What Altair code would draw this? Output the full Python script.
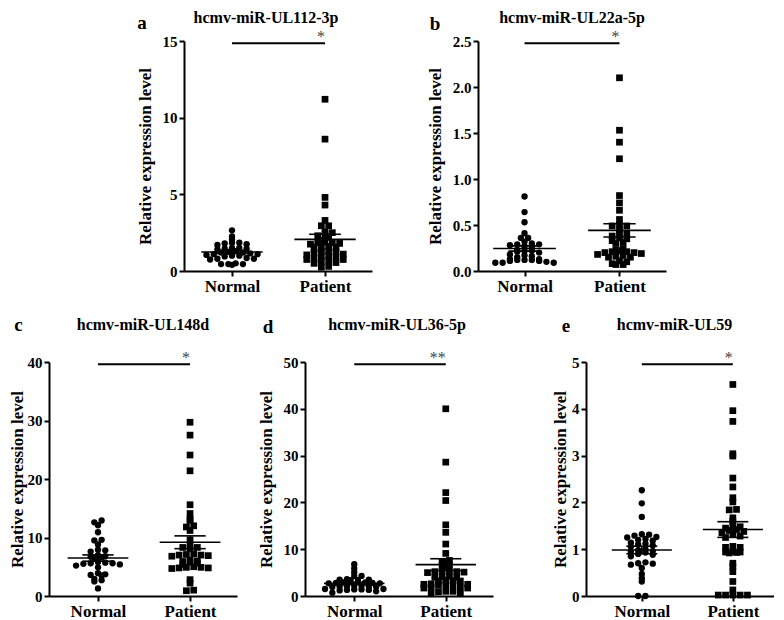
import math
import altair as alt
import pandas as pd

FONT = "Liberation Serif"
groups = ["Normal", "Patient"]

# ---------------- data ----------------
a_title = "hcmv-miR-UL112-3p"
a_normal = [2.65, 2.25, 2.05, 1.85, 1.85, 1.8, 1.75, 1.7, 1.5, 1.5, 1.45, 1.45, 1.4, 1.3, 1.25,
            1.2, 1.2, 1.15, 1.1, 1.1, 1.05, 1.0, 1.0, 0.95, 0.85, 0.8, 0.8, 0.75, 0.5, 0.45,
            0.45, 0.45, 0.4]
a_patient = [11.2, 8.6, 4.8, 4.3, 3.3, 2.95, 2.95, 2.55, 2.4, 2.2, 2.5, 1.9, 2.3, 2.0, 1.85,
             1.85, 1.8, 1.75, 1.6, 1.5, 1.5, 1.45, 1.3, 1.3, 1.25, 1.2, 1.1, 1.05, 1.0, 0.95,
             0.9, 0.8, 0.75, 0.75, 0.7, 0.6, 0.55, 0.5, 0.3, 0.25]

b_title = "hcmv-miR-UL22a-5p"
b_normal = [0.81, 0.64, 0.53, 0.41, 0.36, 0.36, 0.32, 0.3, 0.29, 0.29, 0.28, 0.27, 0.26, 0.23,
            0.22, 0.22, 0.21, 0.2, 0.18, 0.17, 0.16, 0.15, 0.13, 0.13, 0.12, 0.12, 0.12, 0.11,
            0.11, 0.1, 0.09, 0.09, 0.09]
b_patient = [2.10, 1.53, 1.40, 1.22, 0.82, 0.74, 0.66, 0.56, 0.50, 0.49, 0.49, 0.45, 0.42, 0.41,
             0.38, 0.36, 0.35, 0.33, 0.31, 0.30, 0.24, 0.23, 0.22, 0.21, 0.21, 0.20, 0.20, 0.19,
             0.18, 0.17, 0.16, 0.15, 0.15, 0.11, 0.10, 0.08, 0.07, 0.07]

c_title = "hcmv-miR-UL148d"
c_normal = [12.9, 12.6, 12.1, 10.9, 9.6, 9.5, 8.8, 7.9, 7.8, 7.6, 7.0, 6.8, 6.7, 6.6, 6.5, 5.8,
            5.7, 5.6, 5.6, 5.5, 5.4, 5.2, 4.9, 3.9, 3.7, 3.6, 3.5, 2.9, 2.7, 2.5, 1.3]
c_patient = [29.7, 27.5, 24.1, 21.4, 15.6, 14.1, 13.1, 12.9, 12.0, 11.8, 11.2, 9.6, 8.5, 8.3,
             8.3, 8.1, 7.2, 7.1, 7.0, 7.0, 6.9, 6.8, 6.1, 6.0, 5.9, 5.8, 5.6, 5.4, 5.0, 4.9,
             4.9, 4.8, 4.8, 4.7, 2.8, 2.2, 1.0, 0.9]

d_title = "hcmv-miR-UL36-5p"
d_normal = [6.8, 5.9, 5.1, 4.3, 4.3, 3.6, 3.5, 3.5, 3.4, 3.4, 2.9, 2.9, 2.8, 2.8, 2.7, 2.7,
            2.2, 2.2, 2.1, 2.1, 2.0, 2.0, 1.9, 1.5, 1.5, 1.4, 1.4, 1.3, 1.3, 1.2, 1.0, 0.7]
d_patient = [40.0, 28.6, 22.1, 20.4, 15.2, 13.6, 11.1, 9.1, 7.6, 7.4, 6.6, 6.5, 5.4, 5.3, 5.2,
             5.2, 5.1, 5.0, 4.2, 4.1, 4.0, 4.0, 3.4, 3.3, 3.2, 3.2, 2.6, 2.5, 2.5, 2.4, 2.4,
             2.3, 1.9, 1.8, 1.7, 1.7, 1.0, 1.0, 0.9, 0.6, 0.5]

e_title = "hcmv-miR-UL59"
e_normal = [2.26, 1.98, 1.69, 1.32, 1.31, 1.29, 1.26, 1.25, 1.22, 1.2, 1.18, 1.14, 1.12, 1.1,
            1.08, 1.05, 1.0, 0.98, 0.96, 0.95, 0.93, 0.9, 0.88, 0.85, 0.72, 0.7, 0.69, 0.67,
            0.6, 0.47, 0.38, 0.31, 0.0, 0.0]
e_patient = [4.52, 3.96, 3.73, 3.04, 2.99, 2.52, 2.33, 2.1, 2.01, 1.85, 1.84, 1.67, 1.6, 1.52,
             1.48, 1.45, 1.42, 1.4, 1.38, 1.35, 1.32, 1.28, 1.25, 1.06, 1.04, 1.04, 0.95, 0.94,
             0.94, 0.93, 0.92, 0.7, 0.63, 0.52, 0.31, 0.13, 0.02, 0.02, 0.02, 0.02, 0.02]


def rows_layout(vals, ppu_y, row_h=4.6, dx=7.3):
    """GraphPad-like scatter: points with similar values share a row, spread horizontally."""
    rows = {}
    for i, v in enumerate(vals):
        r = int(math.floor(v * ppu_y / row_h + 0.5))
        rows.setdefault(r, []).append(i)
    xs = [0.0] * len(vals)
    for r, idx in rows.items():
        n = len(idx)
        slots = sorted([(k - (n - 1) / 2) * dx for k in range(n)], key=lambda s: (abs(s), -s))
        for i, s in zip(idx, slots):
            xs[i] = s
    return xs


W = 188


def panel(letter, title, normal, patient, ymax, yticks, yfmt, xdom, stars, tpad,
          title_x, title_y, letter_x, letter_y, H):
    ppu_x = W / (xdom[1] - xdom[0])
    ppu_y = H / ymax
    rows = []
    for ci, vals in enumerate([normal, patient]):
        offs = rows_layout(vals, ppu_y)
        for v, o in zip(vals, offs):
            rows.append({"grp": groups[ci], "cat": ci, "value": v, "xpos": ci + o / ppu_x})
    df = pd.DataFrame(rows)

    xscale = alt.Scale(domain=xdom, nice=False, zero=False)
    yscale = alt.Scale(domain=[0, ymax], nice=False, zero=True)
    xaxis = alt.Axis(values=[0, 1], labelExpr="datum.value == 0 ? 'Normal' : 'Patient'",
                     title=None, grid=False, labelFlush=False, labelFontSize=17)
    yaxis = alt.Axis(values=yticks, format=yfmt, title="Relative expression level",
                     titlePadding=tpad, grid=False, labelFlush=False)

    def X(f):
        return alt.X(f, scale=xscale, axis=xaxis)

    def Y(f):
        return alt.Y(f, scale=yscale, axis=yaxis)

    base = alt.Chart(df)
    circles = base.transform_filter("datum.cat == 0").mark_circle(
        color="black", opacity=1, size=40).encode(x=X("xpos:Q"), y=Y("value:Q"))
    squares = base.transform_filter("datum.cat == 1").mark_square(
        color="black", opacity=1, size=45).encode(x=X("xpos:Q"), y=Y("value:Q"))

    stats = base.transform_aggregate(
        m="mean(value)", se="stderr(value)", groupby=["cat"]
    ).transform_calculate(
        hi="datum.m + datum.se", lo="datum.m - datum.se",
        xl="datum.cat - 0.33", xr="datum.cat + 0.33",
        sl="datum.cat - 0.17", sr="datum.cat + 0.17")
    rk = dict(color="black", strokeWidth=1.6)
    mean_r = stats.mark_rule(**rk).encode(x=X("xl:Q"), x2="xr:Q", y=Y("m:Q"))
    hi_r = stats.mark_rule(**rk).encode(x=X("sl:Q"), x2="sr:Q", y=Y("hi:Q"))
    lo_r = stats.mark_rule(**rk).encode(x=X("sl:Q"), x2="sr:Q", y=Y("lo:Q"))
    v_r = stats.mark_rule(**rk).encode(x=X("cat:Q"), y=Y("lo:Q"), y2="hi:Q")

    sig = alt.Chart(pd.DataFrame({"x1": [0], "x2": [1], "y": [0.99 * ymax], "s": [stars]}))
    sig_line = sig.mark_rule(color="black", strokeWidth=2).encode(
        x=X("x1:Q"), x2="x2:Q", y=Y("y:Q"))
    sig_txt = sig.mark_text(align="right", baseline="middle", dx=0, dy=-6, font=FONT,
                            fontSize=16, color="#444444").encode(
        x=X("x2:Q"), y=Y("y:Q"), text="s:N")

    lab = alt.Chart(pd.DataFrame({"t": [title], "l": [letter]}))
    ttl = lab.mark_text(align="center", baseline="alphabetic", font=FONT, fontSize=16,
                        fontWeight="bold", color="black").encode(
        x=alt.value(title_x), y=alt.value(title_y), text="t:N")
    let = lab.mark_text(align="center", baseline="alphabetic", font=FONT, fontSize=19,
                        fontWeight="bold", color="black").encode(
        x=alt.value(letter_x), y=alt.value(letter_y), text="l:N")

    return alt.layer(circles, squares, mean_r, hi_r, lo_r, v_r, sig_line, sig_txt, ttl, let
                     ).properties(width=W, height=H)


HT, HB = 230, 234
pa = panel("a", a_title, a_normal, a_patient, 15, [0, 5, 10, 15], "d", [-0.516, 1.505], "*", 8,
           82, -18, -42, -12.5, HT)
pb = panel("b", b_title, b_normal, b_patient, 2.5, [0, 0.5, 1.0, 1.5, 2.0, 2.5], ".1f",
           [-0.49, 1.49], "*", 8, 94, -18, -43, -11.5, HT)
pc = panel("c", c_title, c_normal, c_patient, 40, [0, 10, 20, 30, 40], "d", [-0.532, 1.51], "*", 1,
           94, -32, -30.5, -31, HB)
pd_ = panel("d", d_title, d_normal, d_patient, 50, [0, 10, 20, 30, 40, 50], "d", [-0.538, 1.516],
            "**", 8, 92, -32, -37, -29, HB)
pe = panel("e", e_title, e_normal, e_patient, 5, [0, 1, 2, 3, 4, 5], "d", [-0.613, 1.452], "*", 2,
           88.5, -32, -20, -30, HB)

spacer = alt.Chart(pd.DataFrame({"v": [0]})).mark_point(opacity=0).encode(
    x=alt.X("v:Q", axis=None, scale=alt.Scale(domain=[-1, 1])),
    y=alt.Y("v:Q", axis=None, scale=alt.Scale(domain=[-1, 1]))).properties(width=87, height=20)

top = alt.hconcat(spacer, alt.hconcat(pa, pb, spacing=54), spacing=0)
bottom = alt.hconcat(pc, alt.hconcat(pd_, pe, spacing=58), spacing=20)

chart = alt.vconcat(top, bottom, spacing=22).properties(
    padding={"top": 2, "left": 0, "right": 0, "bottom": 0}
).configure_view(
    stroke=None
).configure_axis(
    domainColor="black", domainWidth=2, tickColor="black", tickWidth=2, tickSize=5,
    labelFont=FONT, labelFontSize=15, labelFontWeight="bold", labelColor="black",
    labelPadding=2, titleFont=FONT, titleFontSize=17, titleFontWeight="bold",
    titleColor="black", grid=False
)

chart.save("out.html", embed_options={"renderer": "svg", "actions": False})
